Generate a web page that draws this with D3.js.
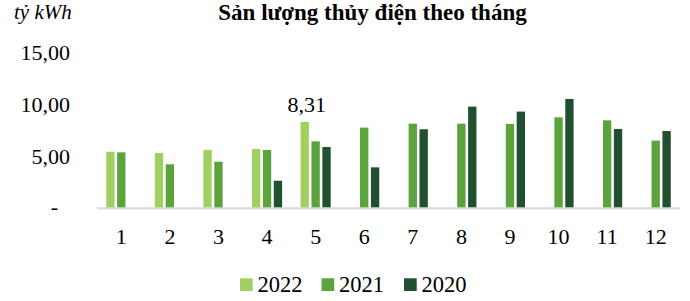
<!DOCTYPE html>
<html><head><meta charset="utf-8">
<script src="https://cdn.jsdelivr.net/npm/d3@7"></script>
<style>body{margin:0;background:#fff}svg{display:block}</style>
</head><body><svg id="c" width="690" height="301" font-family="Liberation Serif, DejaVu Serif, serif"></svg>
<script>
const months = ["1","2","3","4","5","6","7","8","9","10","11","12"];
const seriesNames = ["2022","2021","2020"];
const v2022 = [5.44,5.32,5.61,5.70,8.31,null,null,null,null,null,null,null];
const v2021 = [5.38,4.23,4.48,5.61,6.44,7.76,8.14,8.14,8.11,8.75,8.46,6.51];
const v2020 = [null,null,null,2.65,5.89,3.94,7.60,9.78,9.30,10.51,7.63,7.43];
const yTicks = [0,5,10,15];
const yTickLabels = ["-","5,00","10,00","15,00"];
const colors = ["#a2cf61","#5ca33d","#20502f"];
const title = "Sản lượng thủy điện theo tháng";
const unit = "tỷ kWh";

const svg = d3.select("#c");
const x0 = d3.scaleBand().domain(months).range([97,680]).paddingInner(0.38).paddingOuter(0.19);
const x1 = d3.scaleBand().domain(seriesNames).range([0,x0.bandwidth()]).paddingInner(0.235);
const y = d3.scaleLinear().domain([0,15]).range([208.3,52.3]);
const seriesVals = [v2022,v2021,v2020];

seriesNames.forEach((s,si)=>{
  svg.append("g").selectAll("rect")
    .data(months.map((m,i)=>({m,v:seriesVals[si][i]})).filter(d=>d.v!=null))
    .join("rect")
    .attr("x",d=>x0(d.m)+x1(s))
    .attr("y",d=>y(d.v))
    .attr("width",x1.bandwidth())
    .attr("height",d=>y(0)-y(d.v))
    .attr("fill",colors[si]);
});

svg.append("line").attr("x1",97).attr("x2",680).attr("y1",y(0)).attr("y2",y(0))
  .attr("stroke","#d9d9d9").attr("stroke-width",2);

svg.append("g").selectAll("text").data(months).join("text")
  .attr("x",d=>x0(d)+x0.bandwidth()/2).attr("y",243.5)
  .attr("text-anchor","middle").attr("font-size",22).attr("fill","#000").text(d=>d);

svg.append("g").selectAll("text").data(yTicks).join("text")
  .attr("x",(d,i)=>i===0?58:70).attr("y",d=>y(d)+(d===0?6:7.5))
  .attr("text-anchor","end").attr("font-size",22).attr("fill","#000")
  .text((d,i)=>yTickLabels[i]);

svg.append("text").attr("x",x0("5")+x1("2022")+x1.bandwidth()/2+2).attr("y",y(8.31)-10)
  .attr("text-anchor","middle").attr("font-size",22).attr("fill","#000").text("8,31");

svg.append("text").attr("x",372.5).attr("y",20).attr("text-anchor","middle")
  .attr("font-size",23).attr("font-weight","bold").attr("fill","#000").text(title);
svg.append("text").attr("x",14).attr("y",18.5).attr("font-size",21)
  .attr("font-style","italic").attr("fill","#000").text(unit);

const legX = [240,321.5,404];
const leg = svg.append("g").selectAll("g").data(seriesNames).join("g")
  .attr("transform",(d,i)=>`translate(${legX[i]},0)`);
leg.append("rect").attr("x",0).attr("y",278.3).attr("width",12.7).attr("height",12.7)
  .attr("fill",(d,i)=>colors[i]);
leg.append("text").attr("x",17.5).attr("y",291.7).attr("font-size",22.5).attr("fill","#000").text(d=>d);
</script></body></html>
